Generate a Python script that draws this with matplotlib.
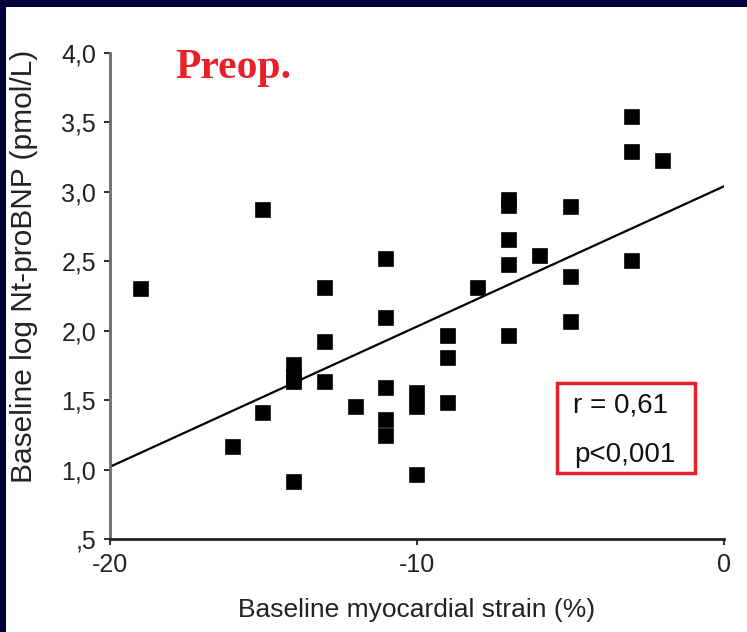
import numpy as np
import matplotlib
matplotlib.use('Agg')
import matplotlib.pyplot as plt
from matplotlib.patches import Rectangle

# strain (%) and log Nt-proBNP
strain = [-19, -16, -15, -15, -14, -14, -14, -14, -13, -13, -13, -12,
          -11, -11, -11, -11, -11, -10, -10, -10, -9, -9, -9, -8,
          -7, -7, -7, -7, -7, -6, -5, -5, -5, -3, -3, -3, -2]
ntprobnp = [2.30, 1.16, 2.87, 1.41, 0.91, 1.75, 1.67, 1.63, 2.31, 1.92, 1.63, 1.45,
            2.52, 2.09, 1.59, 1.36, 1.24, 1.55, 1.45, 0.96, 1.96, 1.80, 1.48, 2.31,
            2.94, 2.90, 2.65, 2.47, 1.96, 2.54, 2.89, 2.39, 2.06, 3.54, 3.29, 2.50, 3.22]

# regression line as printed
fit_intercept = 3.04
fit_slope = 0.101
fit_x = [-20, 0]

xticks = [-20, -10, 0]
xtick_labels = ['-20', '-10', '0']
yticks = [0.5, 1.0, 1.5, 2.0, 2.5, 3.0, 3.5, 4.0]
ytick_labels = [',5', '1,0', '1,5', '2,0', '2,5', '3,0', '3,5', '4,0']

plt.rcParams['font.family'] = ['Liberation Sans', 'DejaVu Sans']

fig = plt.figure(figsize=(7.47, 6.32), dpi=100)
fig.patch.set_facecolor('white')
navy = '#00003a'
fig.patches.append(Rectangle((0, 1 - 7 / 632), 1, 7 / 632, transform=fig.transFigure,
                             facecolor=navy, edgecolor='none', zorder=0))
fig.patches.append(Rectangle((0, 0), 6 / 747, 1, transform=fig.transFigure,
                             facecolor=navy, edgecolor='none', zorder=0))

ax = fig.add_axes([110 / 747, 1 - 539 / 632, (724 - 110) / 747, (539 - 53) / 632])

fx = np.array(fit_x, dtype=float)
ax.plot(fx, fit_intercept + fit_slope * fx, color='black', lw=1.6, zorder=2)
ax.plot(strain, ntprobnp, ls='none', marker='s', ms=9.5, mfc='black', mec='black',
        mew=1.2, zorder=3)

ax.set_xlim(-20, 0)
ax.set_ylim(0.5, 4.0)
ax.set_xticks(xticks)
ax.set_xticklabels(xtick_labels)
ax.set_yticks(yticks)
ax.set_yticklabels(ytick_labels)

for s in ('top', 'right'):
    ax.spines[s].set_visible(False)
ax.spines['left'].set_color('#6a6a6a')
ax.spines['left'].set_linewidth(2)
ax.spines['bottom'].set_color('#222222')
ax.spines['bottom'].set_linewidth(2)
ax.tick_params(axis='both', direction='out', length=4, width=1.5, colors='#333333',
               labelsize=18, labelcolor='#222222')
ax.tick_params(axis='y', pad=6)
ax.tick_params(axis='x', pad=6)

ax.set_xlabel('Baseline myocardial strain (%)', fontsize=19, color='#222222', labelpad=15)
ax.set_ylabel('Baseline log Nt-proBNP (pmol/L)', fontsize=21.5, color='#222222')
ax.yaxis.set_label_coords(-0.117, 0.56)

fig.text(175 / 747, 1 - 78 / 632, 'Preop.', color='#e8202a', fontsize=30,
         fontweight='bold', family='Liberation Serif', ha='left', va='baseline')

fig.patches.append(Rectangle((557 / 747, 1 - 473 / 632), (695 - 557) / 747, (473 - 383) / 632,
                             transform=fig.transFigure, facecolor='white',
                             edgecolor='#e8202a', lw=2.5, zorder=5))
fig.text(621 / 747, 1 - 405 / 632, 'r = 0,61', fontsize=20, color='#111111',
         ha='center', va='center', zorder=6)
fig.text(625 / 747, 1 - 455 / 632, 'p<0,001', fontsize=20, color='#111111',
         ha='center', va='center', zorder=6)

fig.savefig('out.png', dpi=100)
